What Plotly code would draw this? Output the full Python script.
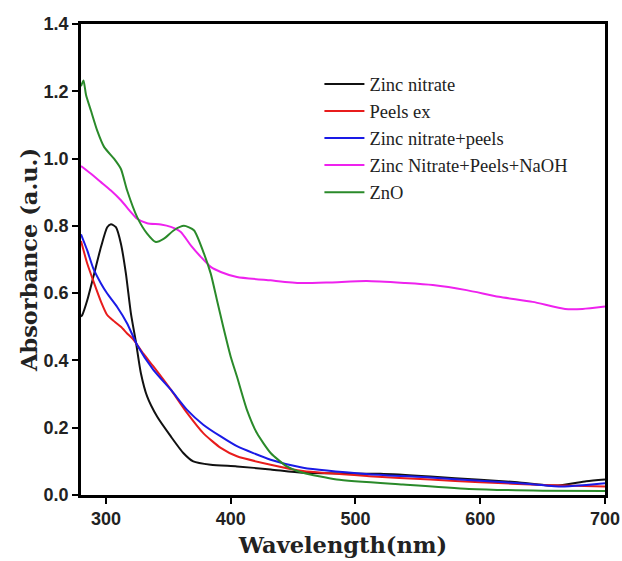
import plotly.graph_objects as go

# Zinc nitrate
wl_zn = [280, 281, 285, 290, 296, 301, 304, 308, 312, 316, 320, 324, 328, 333, 341, 352, 362, 370, 384, 405, 432, 458, 520, 560, 600, 630, 660, 685, 700]
ab_zn = [0.53, 0.535, 0.579, 0.65, 0.737, 0.796, 0.805, 0.796, 0.747, 0.658, 0.54, 0.455, 0.362, 0.293, 0.233, 0.174, 0.125, 0.10, 0.09, 0.085, 0.076, 0.066, 0.063, 0.055, 0.045, 0.038, 0.028, 0.041, 0.046]

# Peels ex
wl_pe = [280, 285, 290, 296, 301, 307, 312, 317, 322, 330, 338, 352, 365, 378, 392, 405, 432, 458, 511, 560, 600, 650, 700]
ab_pe = [0.755, 0.688, 0.635, 0.575, 0.535, 0.515, 0.50, 0.48, 0.462, 0.42, 0.382, 0.313, 0.244, 0.184, 0.14, 0.115, 0.09, 0.071, 0.056, 0.046, 0.038, 0.03, 0.025]

# Zinc nitrate+peels
wl_zp = [280, 285, 290, 296, 301, 309, 317, 325, 338, 352, 365, 378, 392, 405, 432, 458, 511, 560, 600, 640, 665, 685, 700]
ab_zp = [0.775, 0.727, 0.672, 0.629, 0.599, 0.559, 0.51, 0.446, 0.372, 0.313, 0.253, 0.209, 0.174, 0.145, 0.105, 0.081, 0.062, 0.052, 0.042, 0.033, 0.025, 0.03, 0.035]

# Zinc Nitrate+Peels+NaOH
wl_zpn = [280, 288, 296, 304, 312, 320, 325, 333, 344, 352, 360, 368, 376, 384, 392, 405, 432, 456, 480, 509, 540, 562, 589, 615, 642, 668, 682, 700]
ab_zpn = [0.978, 0.955, 0.93, 0.905, 0.876, 0.841, 0.821, 0.808, 0.804, 0.797, 0.782, 0.742, 0.708, 0.678, 0.663, 0.648, 0.638, 0.630, 0.632, 0.636, 0.630, 0.624, 0.609, 0.589, 0.574, 0.553, 0.553, 0.56]

# ZnO
wl_zno = [280, 282, 284, 288, 293, 298.6, 306.6, 312, 317, 325, 333, 340, 346.5, 354.5, 362.5, 370.5, 378.5, 384, 389, 394, 400, 405, 413, 421, 432, 445, 458, 485, 538, 591, 650, 700]
ab_zno = [1.215, 1.232, 1.19, 1.142, 1.083, 1.034, 0.999, 0.969, 0.905, 0.826, 0.777, 0.752, 0.762, 0.787, 0.80, 0.787, 0.718, 0.658, 0.579, 0.50, 0.411, 0.352, 0.253, 0.184, 0.125, 0.085, 0.066, 0.046, 0.031, 0.018, 0.013, 0.012]

series = [
    ("Zinc nitrate", wl_zn, ab_zn, "#111111"),
    ("Peels ex", wl_pe, ab_pe, "#e81c1c"),
    ("Zinc nitrate+peels", wl_zp, ab_zp, "#1a1ae6"),
    ("Zinc Nitrate+Peels+NaOH", wl_zpn, ab_zpn, "#ee22ee"),
    ("ZnO", wl_zno, ab_zno, "#2a8a2a"),
]

x_ticks = [300, 400, 500, 600, 700]
y_ticks = [0.0, 0.2, 0.4, 0.6, 0.8, 1.0, 1.2, 1.4]

fig = go.Figure()
for name, x, y, c in series:
    fig.add_trace(go.Scatter(x=x, y=y, name=name, mode="lines",
                             line=dict(color=c, width=2, shape="spline", smoothing=0.6)))

tick_font = dict(family="Liberation Sans", size=18, color="#222222", weight="bold")
title_font = dict(family="DejaVu Serif", size=22.5, color="#222222", weight="bold")

fig.update_layout(
    width=622, height=561,
    margin=dict(l=81, r=17, t=24, b=66),
    paper_bgcolor="white", plot_bgcolor="white",
    showlegend=True,
    legend=dict(x=0.455, y=0.912, xanchor="left", yanchor="top",
                font=dict(family="Liberation Serif", size=18.5, color="#222222"),
                bgcolor="rgba(0,0,0,0)", tracegroupgap=0, itemwidth=40),
)
fig.update_xaxes(range=[280, 700], tickvals=x_ticks, ticks="outside", ticklen=6, tickwidth=2,
                 tickcolor="black", showline=True, linecolor="black", linewidth=2.5, mirror=True,
                 showgrid=False, zeroline=False, tickfont=tick_font, automargin=False,
                 title=dict(text="Wavelength(nm)", font=title_font, standoff=9))
fig.update_yaxes(range=[0, 1.4], tickvals=y_ticks, tickformat=".1f", ticks="outside", ticklen=6, tickwidth=2,
                 tickcolor="black", showline=True, linecolor="black", linewidth=2.5, mirror=True,
                 showgrid=False, zeroline=False, tickfont=tick_font, automargin=False,
                 title=dict(text="Absorbance (a.u.)", font=title_font, standoff=0))

fig.write_html("out.html", config={"displayModeBar": False},
               post_script="document.body.style.margin='0';document.body.style.overflow='hidden';")
